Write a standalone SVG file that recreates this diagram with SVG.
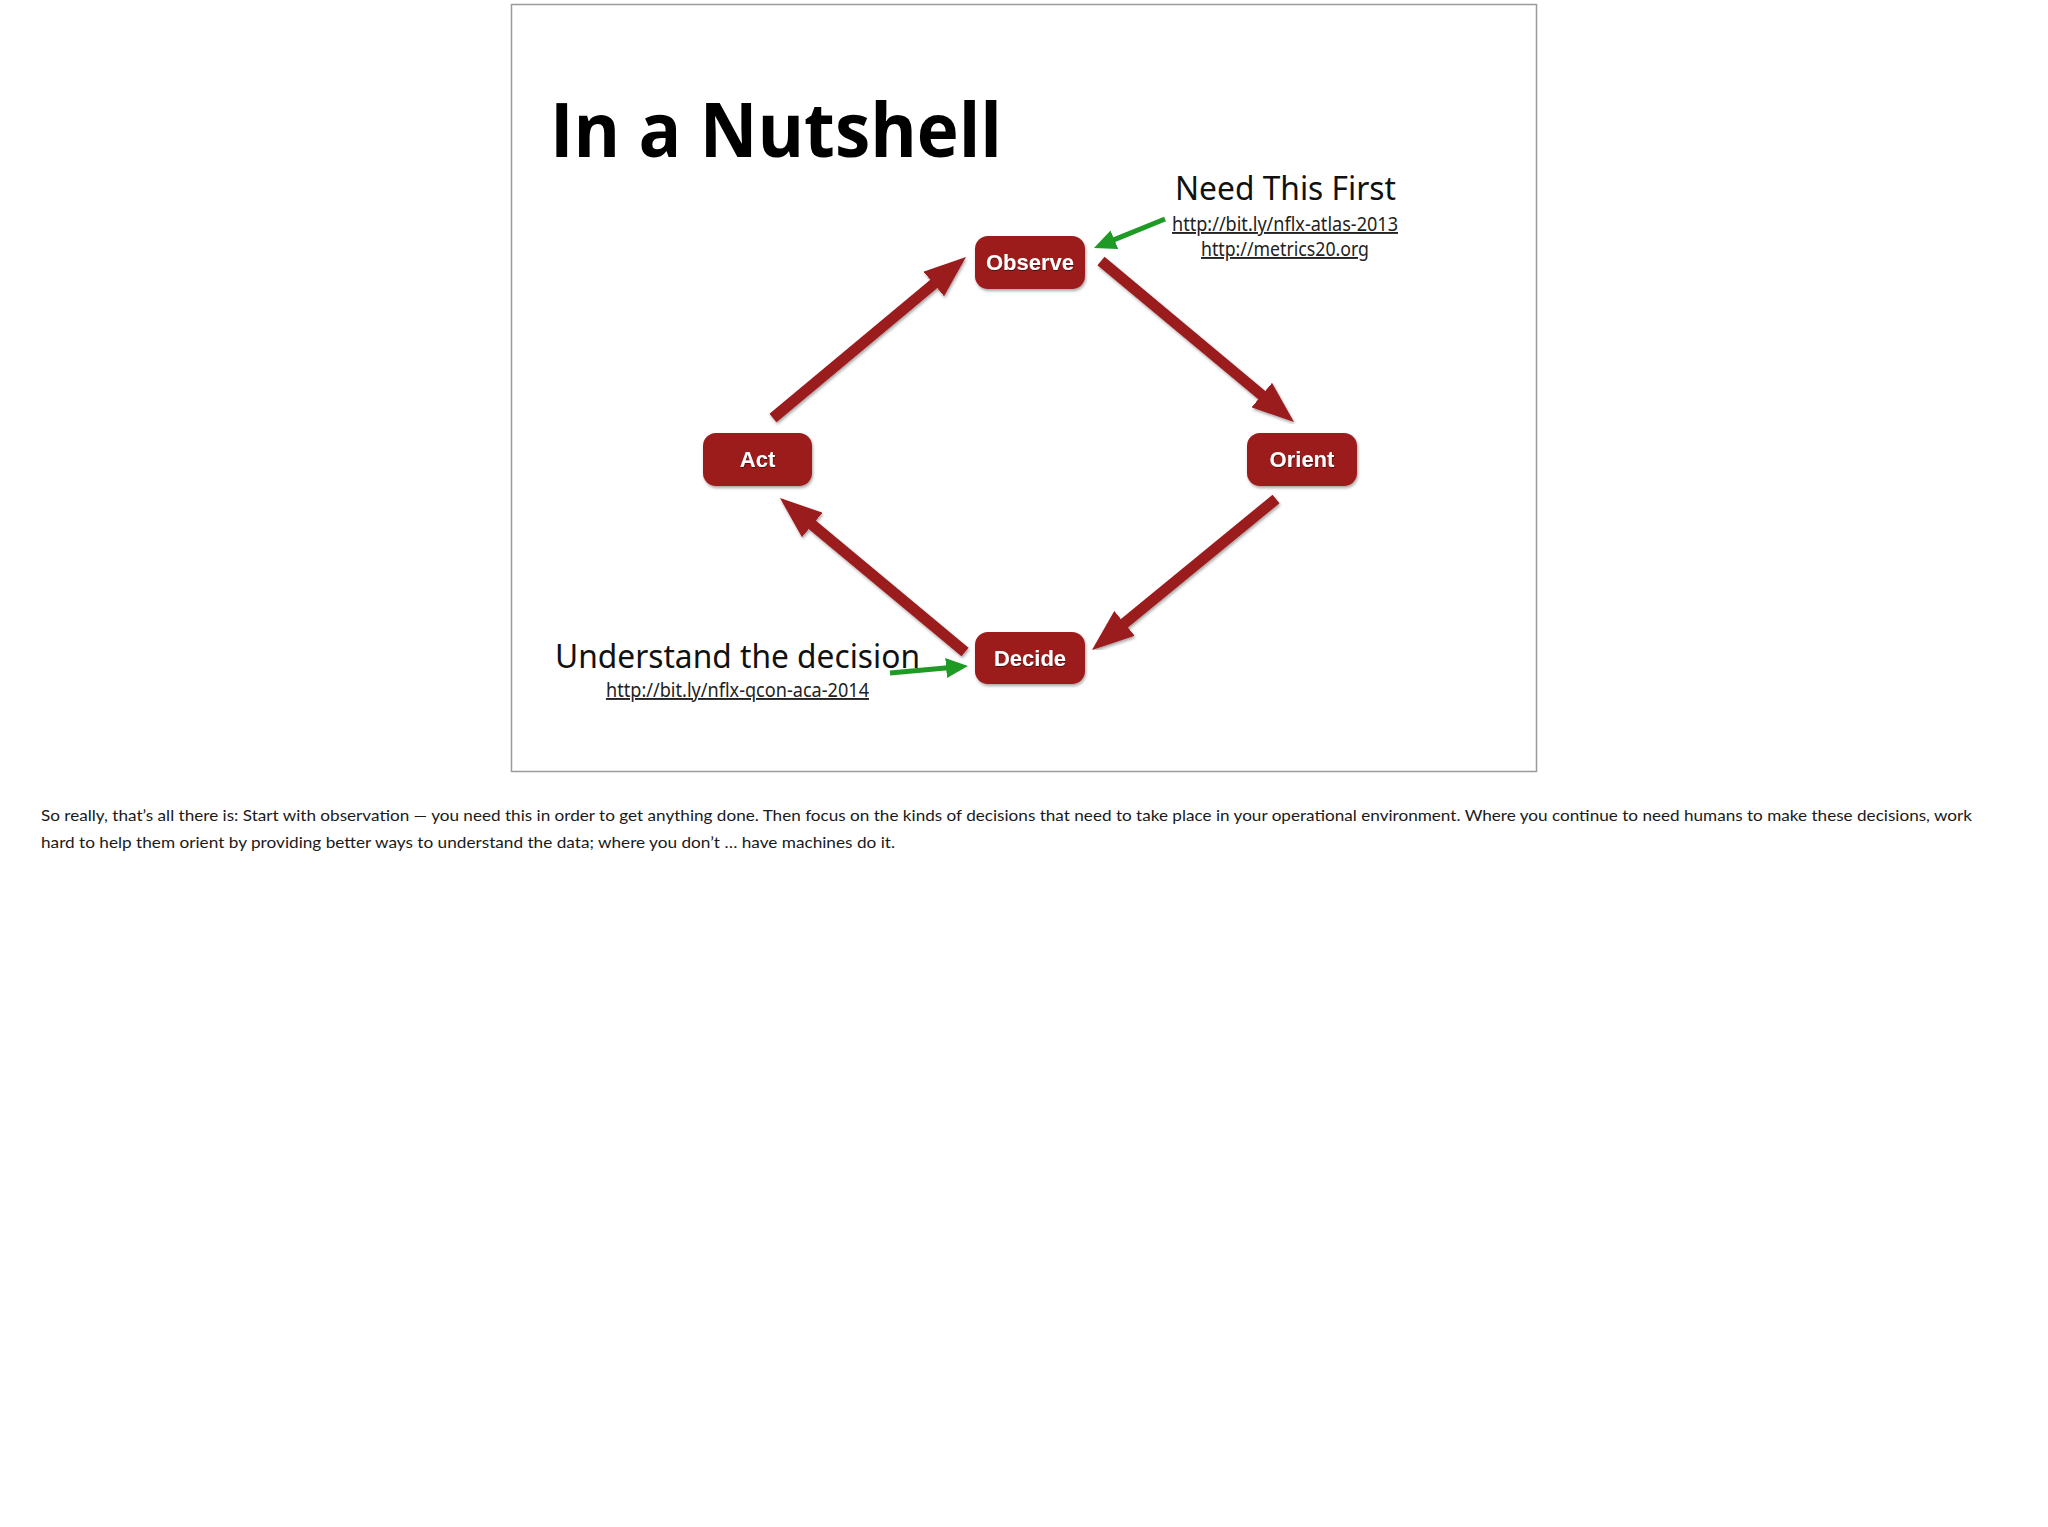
<svg xmlns="http://www.w3.org/2000/svg" width="2048" height="1527" viewBox="0 0 2048 1527">
<defs>
<style>
.node rect{fill:#9c1a1c;}
.node text{font-family:"Liberation Sans",Arial,sans-serif;font-weight:bold;font-size:22px;fill:#ffffff;text-anchor:middle;}
.conn{stroke:#9b1b1e;stroke-width:11;fill:none;}
.green{stroke:#1f9a24;stroke-width:5;fill:none;}
.heading{font-family:"Noto Sans","Open Sans",sans-serif;font-size:32px;fill:#111;}
.link{font-family:"Noto Sans","Open Sans",sans-serif;font-size:19px;fill:#222;text-decoration:underline;}
.footer{font-family:Lato,"Noto Sans",sans-serif;font-size:16px;fill:#1a1a1a;}
</style>
<filter id="sh" x="-20%" y="-20%" width="140%" height="140%">
<feDropShadow dx="1" dy="2" stdDeviation="1.5" flood-color="#000" flood-opacity="0.35"/>
</filter>
<filter id="tsh" x="-10%" y="-20%" width="120%" height="140%">
<feDropShadow dx="0.5" dy="1" stdDeviation="0.6" flood-color="#000" flood-opacity="0.5"/>
</filter>
<marker id="redHead" markerUnits="userSpaceOnUse" markerWidth="42" markerHeight="32" refX="2" refY="16" orient="auto" viewBox="0 0 42 32">
<path d="M0,0 L42,16 L0,32 Z" fill="#9b1b1e"/>
</marker>
<marker id="greenHead" markerUnits="userSpaceOnUse" markerWidth="22" markerHeight="20" refX="2" refY="10" orient="auto" viewBox="0 0 22 20">
<path d="M0,0 L22,10 L0,20 Z" fill="#1f9a24"/>
</marker>
</defs>
<rect x="0" y="0" width="2048" height="1527" fill="#ffffff"/>
<rect x="511.5" y="4.5" width="1025" height="767" fill="#ffffff" stroke="#9a9a9a" stroke-width="1.5"/>

<text x="550" y="157" font-family="'Open Sans','Noto Sans',sans-serif" font-weight="700" font-size="76" fill="#000" textLength="452" lengthAdjust="spacingAndGlyphs">In a Nutshell</text>

<g id="connectors">
<line class="conn" filter="url(#sh)" x1="773" y1="418" x2="935.3" y2="282.6" marker-end="url(#redHead)"/>
<line class="conn" filter="url(#sh)" x1="1101" y1="261" x2="1263.3" y2="396.4" marker-end="url(#redHead)"/>
<line class="conn" filter="url(#sh)" x1="1276" y1="499" x2="1122.9" y2="624.6" marker-end="url(#redHead)"/>
<line class="conn" filter="url(#sh)" x1="965" y1="652" x2="810.7" y2="523.6" marker-end="url(#redHead)"/>
<line class="green" x1="1165" y1="219" x2="1112.5" y2="240.4" marker-end="url(#greenHead)"/>
<line class="green" x1="890" y1="673" x2="948.1" y2="667.8" marker-end="url(#greenHead)"/>
</g>

<g id="observe" class="node">
<rect x="975" y="236" width="110" height="53" rx="13" filter="url(#sh)"/>
<text x="1030" y="270" filter="url(#tsh)">Observe</text>
</g>
<g id="act" class="node">
<rect x="703" y="433" width="109" height="53" rx="13" filter="url(#sh)"/>
<text x="757.5" y="467" filter="url(#tsh)">Act</text>
</g>
<g id="orient" class="node">
<rect x="1247" y="433" width="110" height="53" rx="13" filter="url(#sh)"/>
<text x="1302" y="467" filter="url(#tsh)">Orient</text>
</g>
<g id="decide" class="node">
<rect x="975" y="632" width="110" height="52" rx="13" filter="url(#sh)"/>
<text x="1030" y="666" filter="url(#tsh)">Decide</text>
</g>

<g id="note-observe">
<text class="heading" x="1285.5" y="200" text-anchor="middle" textLength="221" lengthAdjust="spacingAndGlyphs">Need This First</text>
<text class="link" x="1285" y="231" text-anchor="middle" textLength="226" lengthAdjust="spacingAndGlyphs">http://bit.ly/nflx-atlas-2013</text>
<text class="link" x="1285" y="256" text-anchor="middle" textLength="168" lengthAdjust="spacingAndGlyphs">http://metrics20.org</text>
</g>
<g id="note-decide">
<text class="heading" x="555" y="668" textLength="365" lengthAdjust="spacingAndGlyphs">Understand the decision</text>
<text class="link" x="606" y="697" textLength="263" lengthAdjust="spacingAndGlyphs">http://bit.ly/nflx-qcon-aca-2014</text>
</g>

<g id="notes">
<text class="footer" x="41" y="821" textLength="1931" lengthAdjust="spacingAndGlyphs">So really, that’s all there is: Start with observation — you need this in order to get anything done.  Then focus on the kinds of decisions that need to take place in your operational environment.  Where you continue to need humans to make these decisions, work</text>
<text class="footer" x="41" y="848" textLength="854" lengthAdjust="spacingAndGlyphs">hard to help them orient by providing better ways to understand the data; where you don’t … have machines do it.</text>
</g>
</svg>
